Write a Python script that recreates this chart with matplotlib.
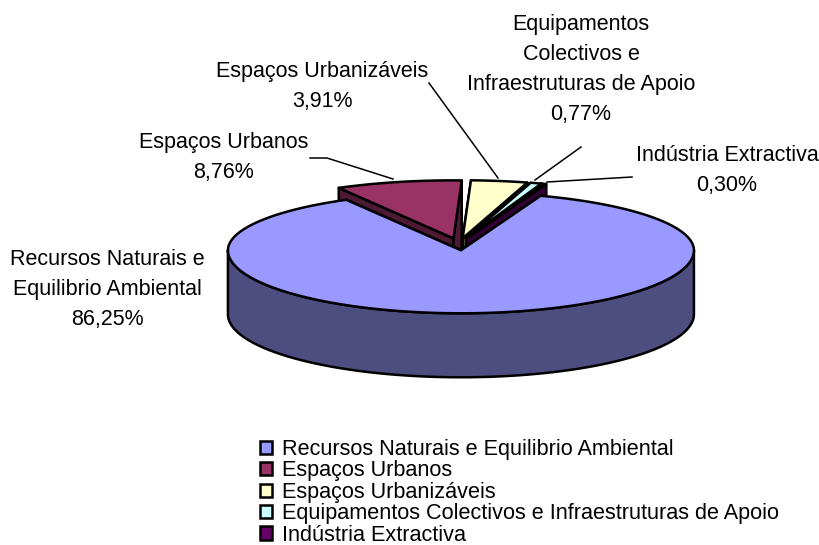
import numpy as np
import matplotlib
matplotlib.use("Agg")
import matplotlib.pyplot as plt
from matplotlib.patches import Polygon, Patch

categorias = ["Recursos Naturais e Equilibrio Ambiental", "Espaços Urbanos", "Espaços Urbanizáveis",
              "Equipamentos Colectivos e Infraestruturas de Apoio", "Indústria Extractiva"]
valores = [86.25, 8.76, 3.91, 0.77, 0.30]
rotulos = ["Recursos Naturais e\nEquilibrio Ambiental", "Espaços Urbanos", "Espaços Urbanizáveis",
           "Equipamentos\nColectivos e\nInfraestruturas de Apoio", "Indústria Extractiva"]
cores = ["#9999FF", "#993366", "#FFFFCC", "#CCFFFF", "#660066"]
cores_lado = ["#4D4D80", "#4D1A33", "#808066", "#668080", "#330033"]

# geometria do bolo, em pixeis da imagem
CX, CY = 459, 244
RX, RY_TRAS, RY_FRENTE = 233, 58, 63
ALTURA = 64
EXPLODE = 0.1
INICIO = 70
FS = 15.5
FS_LEGENDA = 15.6

plt.rcParams['font.family'] = ['Liberation Sans']

fig = plt.figure(figsize=(8.19, 5.45), dpi=100)
ax = fig.add_axes([0, 0, 1, 1])
ax.set_xlim(0, 819)
ax.set_ylim(545, 0)
ax.axis("off")


def ponto(a, cx, cy):
    a = np.radians(a)
    s = np.sin(a)
    ry = np.where(s > 0, RY_TRAS, RY_FRENTE)
    return cx + RX * np.cos(a), cy - ry * s


def arco(a0, a1, cx, cy):
    ang = np.linspace(a0, a1, 200)
    x, y = ponto(ang, cx, cy)
    return np.column_stack([x, y])


def fatia(a0, a1, cor, cor_lado, z):
    meio = np.radians((a0 + a1) / 2)
    cx = CX + EXPLODE * RX * np.cos(meio)
    s = np.sin(meio)
    cy = CY - EXPLODE * (RY_TRAS if s > 0 else RY_FRENTE) * s
    desce = np.array([0, ALTURA])
    centro = np.array([cx, cy])
    estilo = dict(edgecolor="black", linewidth=1.8, joinstyle="round", zorder=z)
    # paredes retas
    for a in (a0, a1):
        p = np.array(ponto(a, cx, cy), dtype=float)
        ax.add_patch(Polygon([centro, p, p + desce, centro + desce], facecolor=cor_lado, **estilo))
    # parede curva, so a parte da frente
    lo, hi = min(a0, a1), max(a0, a1)
    for k in (-360, 0):
        i0, i1 = max(lo, 180 + k), min(hi, 360 + k)
        if i1 > i0:
            top = arco(i0, i1, cx, cy)
            ax.add_patch(Polygon(np.vstack([top, top[::-1] + desce]), facecolor=cor_lado, **estilo))
    ax.add_patch(Polygon(np.vstack([centro, arco(a0, a1, cx, cy)]), facecolor=cor, **estilo))


# limites de cada fatia, no sentido dos ponteiros
limites = INICIO - np.cumsum([0] + valores) * 3.6
ordem = [1, 2, 3, 4, 0]
for z, i in enumerate(ordem):
    fatia(limites[i], limites[i + 1], cores[i], cores_lado[i], 2 + z)

# rotulos: centro x, y da primeira linha
pos_rotulos = [(107, 259), (224, 142), (322, 71), (581, 24), (727, 155)]
for i, (x, y) in enumerate(pos_rotulos):
    txt = rotulos[i] + "\n" + f"{valores[i]:.2f}".replace(".", ",") + "%"
    ax.text(x, y - 10, txt, ha="center", va="top", fontsize=FS, linespacing=1.56, color="black", zorder=20)

# linhas de chamada
guias = [
    [(310, 158), (327, 158), (393, 179)],
    [(429, 83), (498, 178)],
    [(581, 147), (535, 180)],
    [(632, 177), (547, 182)],
]
for g in guias:
    ax.plot(*zip(*g), color="black", lw=1.1, zorder=1)

handles = [Patch(facecolor=c, edgecolor="black", linewidth=1.8) for c in cores]
ax.legend(handles, categorias, loc="upper left", bbox_to_anchor=(260 / 819, 1 - 439 / 545),
          bbox_transform=fig.transFigure, frameon=False, fontsize=FS_LEGENDA, labelspacing=0.02,
          handlelength=0.56, handleheight=0.56, handletextpad=0.45, borderpad=0, borderaxespad=0)

fig.savefig("out.png", dpi=100)
